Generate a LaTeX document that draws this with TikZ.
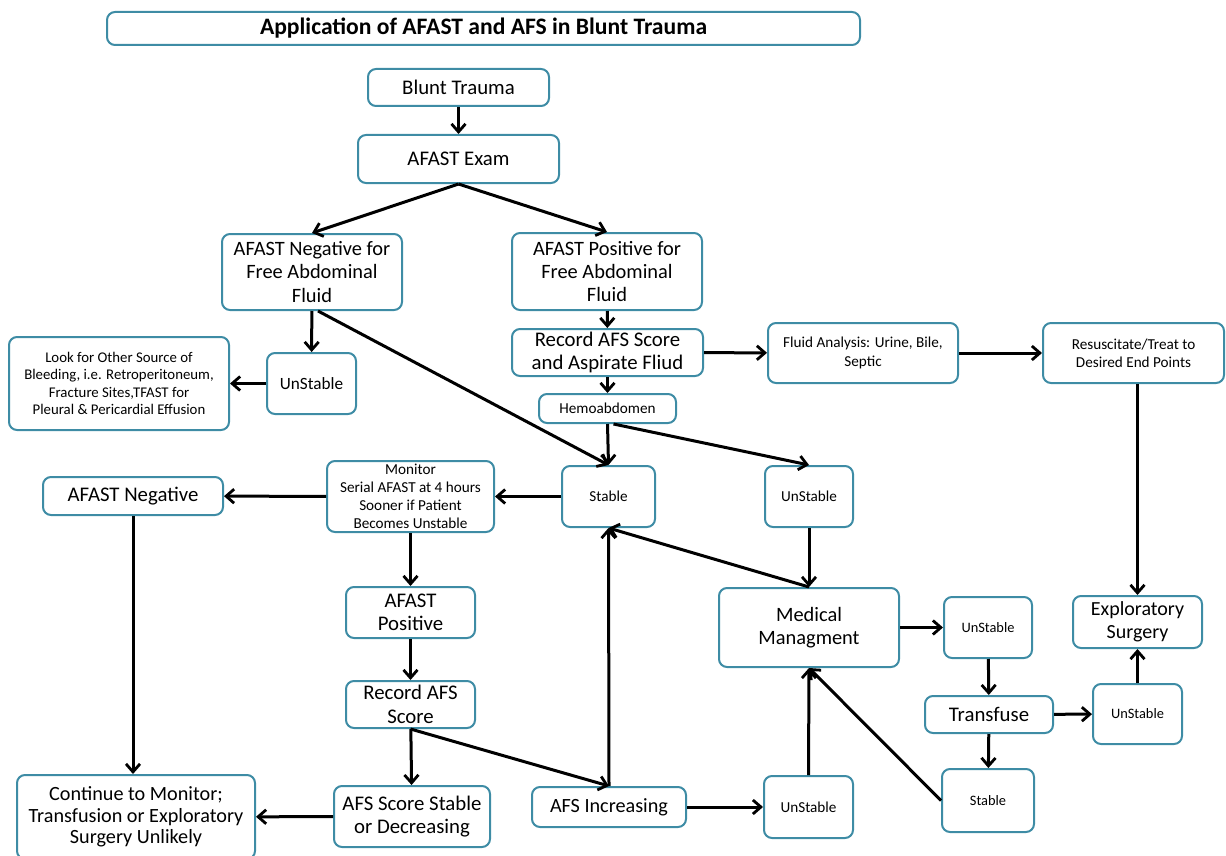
\documentclass[tikz,border=0pt]{standalone}
\usepackage{fontspec}
\setmainfont{Carlito}
\usetikzlibrary{arrows.meta}
\definecolor{boxc}{RGB}{62,140,165}
\tikzset{
  box/.style={draw=boxc, line width=1pt, rounded corners=4pt, fill=white, align=center, inner sep=1pt, text=black},
  fbig/.style={font=\fontsize{10.4}{11.7}\selectfont},
  fmed/.style={font=\fontsize{10.2}{11.6}\selectfont},
  fsm/.style={font=\fontsize{7.6}{9}\selectfont},
  fxs/.style={font=\fontsize{7.6}{9.2}\selectfont},
  fun/.style={font=\fontsize{7.2}{9}\selectfont},
  arr/.style={line width=1.5pt, -{Straight Barb[length=4pt,width=7pt,line width=1.4pt]}},
}
\newcommand{\bx}[6]{\node[box,#1,minimum width=#4*0.5pt,minimum height=#5*0.5pt] (#2) at (#3) {#6};}
\begin{document}
\begin{tikzpicture}[x=0.5pt,y=-0.5pt]
\useasboundingbox (0,0) rectangle (1226,856);
\bx{font=\fontsize{11.8}{13}\selectfont\bfseries}{title}{483.5,28.5}{753}{33}{Application of AFAST and AFS in Blunt Trauma}
\bx{fbig}{blunt}{458.5,87.5}{181}{37}{Blunt Trauma}
\bx{fbig}{exam}{458.5,159}{201}{48}{AFAST Exam}
\bx{fmed}{neg}{312,272}{180}{76}{AFAST Negative for\\Free Abdominal\\Fluid}
\bx{fmed}{pos}{607,271.5}{190}{77}{AFAST Positive for\\Free Abdominal\\Fluid}
\bx{fbig}{rec1}{607.5,352.5}{191}{47}{Record AFS Score\\and Aspirate Fliud}
\bx{fxs}{fluid}{863,353}{190}{60}{Fluid Analysis: Urine, Bile,\\Septic}
\bx{fxs}{resus}{1133.5,353}{181}{60}{Resuscitate/Treat to\\Desired End Points}
\bx{font=\fontsize{7.4}{8.8}\selectfont}{look}{119,383.5}{220}{93}{Look for Other Source of\\Bleeding, i.e. Retroperitoneum,\\Fracture Sites,TFAST for\\Pleural \& Pericardial Effusion}
\bx{font=\fontsize{8.6}{10}\selectfont}{un1}{311.5,383.5}{89}{61}{UnStable}
\bx{fsm}{hemo}{607.5,408.5}{137}{29}{Hemoabdomen}
\bx{fsm}{stable1}{608.5,496.5}{93}{61}{Stable}
\bx{fsm}{un2}{809,496.5}{88}{61}{UnStable}
\bx{fsm}{monitor}{410.5,496.5}{167}{71}{Monitor\\Serial AFAST at 4 hours\\Sooner if Patient\\Becomes Unstable}
\bx{fbig}{afneg}{133,496}{180}{38}{AFAST Negative}
\bx{fbig}{afpos}{410.5,612.5}{129}{51}{AFAST\\Positive}
\bx{fbig}{rec2}{410.5,704.5}{129}{47}{Record AFS\\Score}
\bx{font=\fontsize{10.1}{10.8}\selectfont}{cont}{136,817}{238}{84}{Continue to Monitor;\\Transfusion or Exploratory\\Surgery Unlikely}
\bx{fbig}{afsstab}{412,816.5}{156}{61}{AFS Score Stable\\or Decreasing}
\bx{font=\fontsize{10.1}{11.7}\selectfont}{afsinc}{609,807}{154}{40}{AFS Increasing}
\bx{fsm}{un3}{808.5,807}{89}{62}{UnStable}
\bx{font=\fontsize{10.2}{11.8}\selectfont}{med}{809,627.5}{180}{79}{Medical\\Managment}
\bx{fun}{un4}{988,627.5}{88}{61}{UnStable}
\bx{fbig}{trans}{989,714.5}{128}{37}{Transfuse}
\bx{fun}{un5}{1137.5,714}{89}{60}{UnStable}
\bx{font=\fontsize{10}{11.7}\selectfont}{expl}{1137.5,622}{129}{52}{Exploratory\\Surgery}
\bx{fun}{stable2}{988,800.5}{92}{63}{Stable}

\draw[arr] (blunt) -- (exam);
\draw[arr] (exam.south) -- (neg.north);
\draw[arr] (exam.south) -- (pos.north);
\draw[arr] (neg) -- (un1);
\draw[arr] ([xshift=3pt]neg.south) -- (stable1.north);
\draw[arr] (un1) -- (look);
\draw[arr] (pos) -- (rec1);
\draw[arr] (rec1) -- (fluid);
\draw[arr] (fluid) -- (resus);
\draw[arr] (rec1) -- (hemo);
\draw[arr] (hemo.south) -- (stable1.north);
\draw[arr] ([xshift=3pt]hemo.south) -- (un2.north);
\draw[arr] (stable1) -- (monitor);
\draw[arr] (monitor) -- (afneg);
\draw[arr] (monitor) -- (afpos);
\draw[arr] (afpos) -- (rec2);
\draw[arr] (rec2) -- (afsstab);
\draw[arr] (rec2.south) -- (afsinc.north);
\draw[arr] (afsinc.north) -- (stable1.south);
\draw[arr] (afsstab) -- (cont);
\draw[arr] (afneg.south) -- (afneg.south |- cont.north);
\draw[arr] (afsinc) -- (un3);
\draw[arr] (un3.north) -- (med.south);
\draw[arr] (stable2.west) -- (med.south);
\draw[arr] (un2) -- (med);
\draw[arr] (med.north) -- (stable1.south);
\draw[arr] (med) -- (un4);
\draw[arr] (un4) -- (trans);
\draw[arr] (trans) -- (stable2);
\draw[arr] (trans) -- (un5);
\draw[arr] (un5) -- (expl);
\draw[arr] (resus.south -| expl.north) -- (expl.north);
\end{tikzpicture}
\end{document}
